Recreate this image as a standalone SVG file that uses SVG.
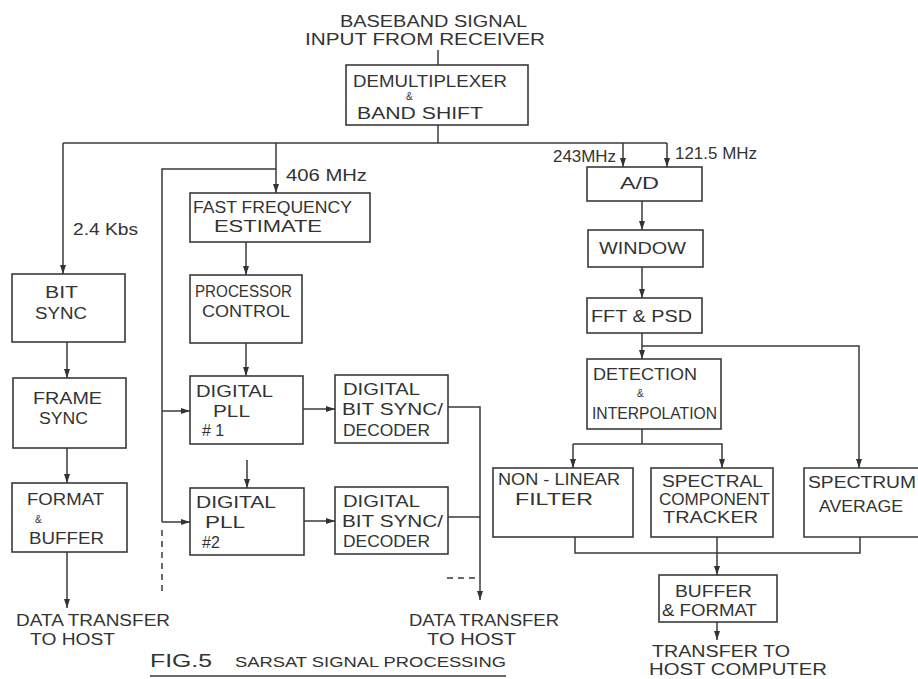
<svg xmlns="http://www.w3.org/2000/svg" width="918" height="679" viewBox="0 0 918 679">
<defs>
<marker id="ah" markerWidth="9" markerHeight="6" refX="9" refY="3" orient="auto" markerUnits="userSpaceOnUse">
<path d="M0,0 L9,3 L0,6 z" fill="#333"/>
</marker>
<style>
.t{font-family:"Liberation Sans",Arial,sans-serif;font-size:16px;fill:#333;}
.s{font-size:10px;}
.b{fill:none;stroke:#3a3a3a;stroke-width:1.6;}
.c{fill:none;stroke:#3a3a3a;stroke-width:1.5;}
.a{marker-end:url(#ah);}
.d{stroke-dasharray:6,5;}
</style>
</defs>
<rect width="918" height="679" fill="#fff"/>

<g id="connectors">
<path class="c" d="M438,50 V65"/>
<path class="c" d="M438,125 V143"/>
<path class="c" d="M63,143 H667"/>
<path class="c a" d="M63,143 V274"/>
<path class="c a" d="M276,143 V193"/>
<path class="c" d="M276,169 H162 V522"/>
<path class="c d" d="M162,530 V592"/>
<path class="c a" d="M162,411 H190"/>
<path class="c a" d="M162,522 H190"/>
<path class="c a" d="M623,143 V167"/>
<path class="c a" d="M667,143 V167"/>
<path class="c a" d="M246,242 V275"/>
<path class="c a" d="M246,343 V376"/>
<path class="c a" d="M247,460 V488"/>
<path class="c a" d="M303,409 H335"/>
<path class="c a" d="M304,521 H335"/>
<path class="c a" d="M448,407 H480 V600"/>
<path class="c" d="M448,517 H480"/>
<path class="c d" d="M447,578 H477"/>
<path class="c a" d="M67,342 V378"/>
<path class="c a" d="M67,448 V483"/>
<path class="c a" d="M67,552 V608"/>
<path class="c a" d="M642,201 V230"/>
<path class="c a" d="M642,267 V298"/>
<path class="c a" d="M642,333 V359"/>
<path class="c a" d="M642,346 H859 V468"/>
<path class="c" d="M642,429 V444"/>
<path class="c a" d="M573,444 V468"/>
<path class="c a" d="M573,444 H722 V468"/>
<path class="c" d="M575,537 V553 H860 V537"/>
<path class="c a" d="M717,537 V575"/>
<path class="c a" d="M717,622 V640"/>
</g>

<g id="input-label">
<text class="t" x="340" y="27" textLength="187" lengthAdjust="spacingAndGlyphs">BASEBAND SIGNAL</text>
<text class="t" x="305" y="45" textLength="240" lengthAdjust="spacingAndGlyphs">INPUT FROM RECEIVER</text>
</g>

<g id="demux">
<rect class="b" x="346" y="65" width="182" height="60"/>
<text class="t" x="353" y="87" textLength="154" lengthAdjust="spacingAndGlyphs">DEMULTIPLEXER</text>
<text class="t s" x="406" y="100">&amp;</text>
<text class="t" x="357" y="119" textLength="126" lengthAdjust="spacingAndGlyphs">BAND SHIFT</text>
</g>

<g id="labels">
<text class="t" x="286" y="181" textLength="81" lengthAdjust="spacingAndGlyphs">406 MHz</text>
<text class="t" x="553" y="162" textLength="63" lengthAdjust="spacingAndGlyphs">243MHz</text>
<text class="t" x="675" y="159" textLength="82" lengthAdjust="spacingAndGlyphs">121.5 MHz</text>
<text class="t" x="73" y="235" textLength="65" lengthAdjust="spacingAndGlyphs">2.4 Kbs</text>
</g>

<g id="bit-sync">
<rect class="b" x="12" y="274" width="113" height="68"/>
<text class="t" x="45" y="298" textLength="33" lengthAdjust="spacingAndGlyphs">BIT</text>
<text class="t" x="35" y="319" textLength="52" lengthAdjust="spacingAndGlyphs">SYNC</text>
</g>

<g id="frame-sync">
<rect class="b" x="13" y="378" width="113" height="70"/>
<text class="t" x="33" y="404" textLength="69" lengthAdjust="spacingAndGlyphs">FRAME</text>
<text class="t" x="39" y="424" textLength="49" lengthAdjust="spacingAndGlyphs">SYNC</text>
</g>

<g id="format-buffer">
<rect class="b" x="12" y="483" width="115" height="69"/>
<text class="t" x="27" y="505" textLength="77" lengthAdjust="spacingAndGlyphs">FORMAT</text>
<text class="t s" x="35" y="523">&amp;</text>
<text class="t" x="29" y="544" textLength="75" lengthAdjust="spacingAndGlyphs">BUFFER</text>
</g>

<g id="out-left">
<text class="t" x="16" y="626" textLength="154" lengthAdjust="spacingAndGlyphs">DATA TRANSFER</text>
<text class="t" x="30" y="645" textLength="85" lengthAdjust="spacingAndGlyphs">TO HOST</text>
</g>

<g id="ffe">
<rect class="b" x="190" y="193" width="180" height="49"/>
<text class="t" x="193" y="213" textLength="159" lengthAdjust="spacingAndGlyphs">FAST FREQUENCY</text>
<text class="t" x="214" y="232" textLength="108" lengthAdjust="spacingAndGlyphs">ESTIMATE</text>
</g>

<g id="processor">
<rect class="b" x="190" y="275" width="112" height="68"/>
<text class="t" x="195" y="297" textLength="97" lengthAdjust="spacingAndGlyphs">PROCESSOR</text>
<text class="t" x="202" y="317" textLength="88" lengthAdjust="spacingAndGlyphs">CONTROL</text>
</g>

<g id="pll1">
<rect class="b" x="190" y="376" width="113" height="68"/>
<text class="t" x="196" y="397" textLength="77" lengthAdjust="spacingAndGlyphs">DIGITAL</text>
<text class="t" x="213" y="417" textLength="37" lengthAdjust="spacingAndGlyphs">PLL</text>
<text class="t" x="202" y="436">#  1</text>
</g>

<g id="dbs1">
<rect class="b" x="335" y="375" width="113" height="68"/>
<text class="t" x="343" y="395" textLength="77" lengthAdjust="spacingAndGlyphs">DIGITAL</text>
<text class="t" x="342" y="415" textLength="101" lengthAdjust="spacingAndGlyphs">BIT SYNC/</text>
<text class="t" x="343" y="436" textLength="87" lengthAdjust="spacingAndGlyphs">DECODER</text>
</g>

<g id="pll2">
<rect class="b" x="190" y="488" width="114" height="67"/>
<text class="t" x="196" y="508" textLength="80" lengthAdjust="spacingAndGlyphs">DIGITAL</text>
<text class="t" x="205" y="528" textLength="40" lengthAdjust="spacingAndGlyphs">PLL</text>
<text class="t" x="202" y="548">#2</text>
</g>

<g id="dbs2">
<rect class="b" x="335" y="487" width="113" height="67"/>
<text class="t" x="343" y="507" textLength="77" lengthAdjust="spacingAndGlyphs">DIGITAL</text>
<text class="t" x="342" y="527" textLength="101" lengthAdjust="spacingAndGlyphs">BIT SYNC/</text>
<text class="t" x="343" y="547" textLength="87" lengthAdjust="spacingAndGlyphs">DECODER</text>
</g>

<g id="out-middle">
<text class="t" x="409" y="626" textLength="150" lengthAdjust="spacingAndGlyphs">DATA TRANSFER</text>
<text class="t" x="427" y="645" textLength="89" lengthAdjust="spacingAndGlyphs">TO HOST</text>
</g>

<g id="ad">
<rect class="b" x="587" y="167" width="115" height="34"/>
<text class="t" x="620" y="189" textLength="39" lengthAdjust="spacingAndGlyphs">A/D</text>
</g>

<g id="window">
<rect class="b" x="588" y="230" width="115" height="37"/>
<text class="t" x="599" y="254" textLength="87" lengthAdjust="spacingAndGlyphs">WINDOW</text>
</g>

<g id="fft">
<rect class="b" x="587" y="298" width="115" height="35"/>
<text class="t" x="591" y="322" textLength="101" lengthAdjust="spacingAndGlyphs">FFT &amp; PSD</text>
</g>

<g id="detection">
<rect class="b" x="587" y="359" width="134" height="70"/>
<text class="t" x="593" y="380" textLength="104" lengthAdjust="spacingAndGlyphs">DETECTION</text>
<text class="t s" x="637" y="397">&amp;</text>
<text class="t" x="592" y="419" textLength="125" lengthAdjust="spacingAndGlyphs">INTERPOLATION</text>
</g>

<g id="nonlinear">
<rect class="b" x="493" y="468" width="140" height="69"/>
<text class="t" x="498" y="485" textLength="122" lengthAdjust="spacingAndGlyphs">NON - LINEAR</text>
<text class="t" x="515" y="505" textLength="78" lengthAdjust="spacingAndGlyphs">FILTER</text>
</g>

<g id="tracker">
<rect class="b" x="651" y="468" width="122" height="69"/>
<text class="t" x="662" y="487" textLength="101" lengthAdjust="spacingAndGlyphs">SPECTRAL</text>
<text class="t" x="659" y="505" textLength="111" lengthAdjust="spacingAndGlyphs">COMPONENT</text>
<text class="t" x="663" y="523" textLength="95" lengthAdjust="spacingAndGlyphs">TRACKER</text>
</g>

<g id="spectrum-average">
<path class="b" d="M925,468 H804 V537 H925"/>
<text class="t" x="808" y="488" textLength="108" lengthAdjust="spacingAndGlyphs">SPECTRUM</text>
<text class="t" x="819" y="512" textLength="84" lengthAdjust="spacingAndGlyphs">AVERAGE</text>
</g>

<g id="buffer-format">
<rect class="b" x="659" y="575" width="118" height="47"/>
<text class="t" x="675" y="597" textLength="77" lengthAdjust="spacingAndGlyphs">BUFFER</text>
<text class="t" x="662" y="616" textLength="95" lengthAdjust="spacingAndGlyphs">&amp; FORMAT</text>
</g>

<g id="out-right">
<text class="t" x="652" y="657" textLength="138" lengthAdjust="spacingAndGlyphs">TRANSFER TO</text>
<text class="t" x="649" y="675" textLength="178" lengthAdjust="spacingAndGlyphs">HOST COMPUTER</text>
</g>

<g id="caption">
<text class="t" x="150" y="667" style="font-size:18px" textLength="62" lengthAdjust="spacingAndGlyphs">FIG.5</text>
<text class="t" x="235" y="667" style="font-size:14px" textLength="271" lengthAdjust="spacingAndGlyphs">SARSAT SIGNAL PROCESSING</text>
<path class="c" d="M150,676 H506"/>
</g>
</svg>
